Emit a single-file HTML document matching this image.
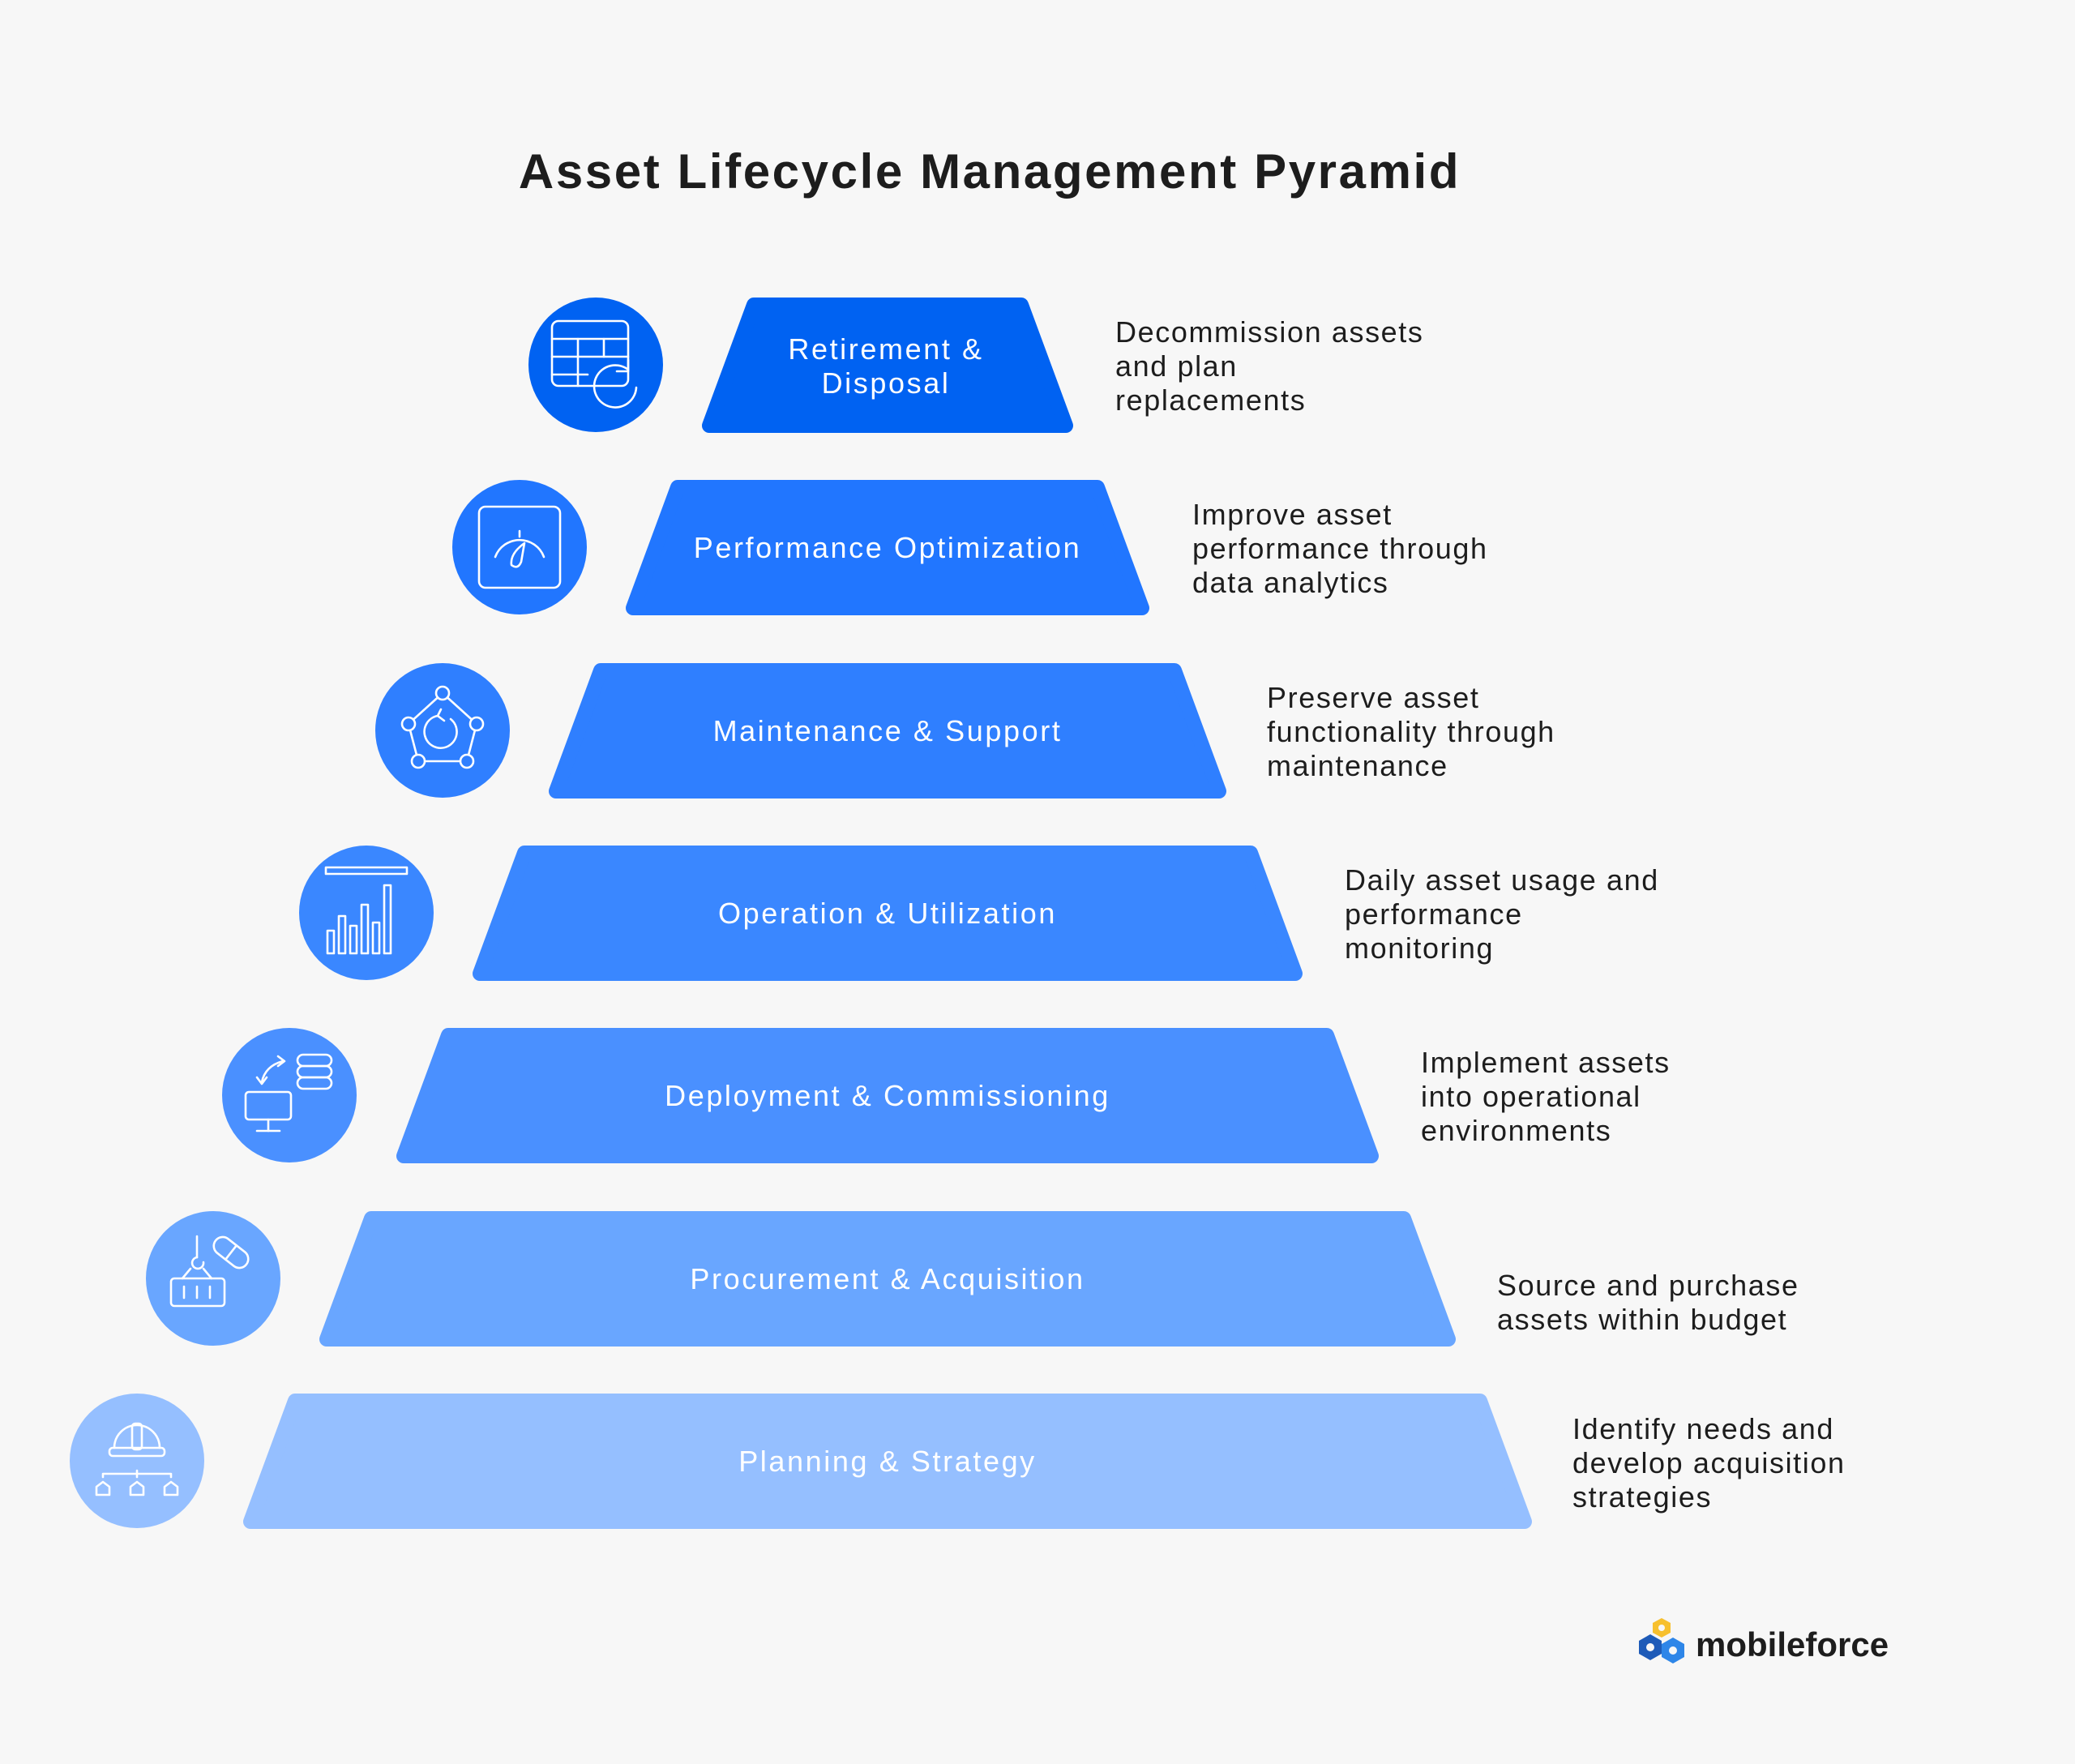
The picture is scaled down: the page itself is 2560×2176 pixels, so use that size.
<!DOCTYPE html>
<html><head><meta charset="utf-8"><style>
html,body{margin:0;padding:0;background:#f7f7f7}
svg{display:block}
.lab{font-family:"Liberation Sans",sans-serif;font-size:36px;fill:#fff;text-anchor:middle;letter-spacing:2.6px}
.desc{font-family:"Liberation Sans",sans-serif;font-size:36px;fill:#1d1d1d;letter-spacing:1.6px}
.ic{fill:none;stroke:#fff;stroke-width:2.6;stroke-linecap:round;stroke-linejoin:round}
</style></head><body>
<svg width="2560" height="2176" viewBox="0 0 2560 2176" xmlns="http://www.w3.org/2000/svg">
<rect width="2560" height="2176" fill="#f7f7f7"/>
<text x="1221" y="232" text-anchor="middle" font-family="Liberation Sans,sans-serif" font-weight="bold" font-size="60" letter-spacing="2.6" fill="#1d1d1d">Asset Lifecycle Management Pyramid</text>

<g stroke-linejoin="round" stroke-width="18">
<polygon points="930,376 1260,376 1315,525 875,525" fill="#0062F2" stroke="#0062F2"/>
<polygon points="836,601 1354,601 1409,750 781,750" fill="#2176FF" stroke="#2176FF"/>
<polygon points="741,827 1449,827 1504,976 686,976" fill="#2F7FFF" stroke="#2F7FFF"/>
<polygon points="647,1052 1543,1052 1598,1201 592,1201" fill="#3A87FF" stroke="#3A87FF"/>
<polygon points="553,1277 1637,1277 1692,1426 498,1426" fill="#4A90FF" stroke="#4A90FF"/>
<polygon points="458,1503 1732,1503 1787,1652 403,1652" fill="#69A6FF" stroke="#69A6FF"/>
<polygon points="364,1728 1826,1728 1881,1877 309,1877" fill="#95BFFF" stroke="#95BFFF"/>
</g>

<text class="lab" x="1093" y="443">Retirement &amp;</text>
<text class="lab" x="1093" y="485">Disposal</text>
<text class="lab" x="1095" y="688">Performance Optimization</text>
<text class="lab" x="1095" y="914">Maintenance &amp; Support</text>
<text class="lab" x="1095" y="1139">Operation &amp; Utilization</text>
<text class="lab" x="1095" y="1364">Deployment &amp; Commissioning</text>
<text class="lab" x="1095" y="1590">Procurement &amp; Acquisition</text>
<text class="lab" x="1095" y="1815" fill="#eef4ff">Planning &amp; Strategy</text>

<circle cx="735" cy="450" r="83" fill="#0062F2"/>
<circle cx="641" cy="675" r="83" fill="#2176FF"/>
<circle cx="546" cy="901" r="83" fill="#2F7FFF"/>
<circle cx="452" cy="1126" r="83" fill="#3A87FF"/>
<circle cx="357" cy="1351" r="83" fill="#4A90FF"/>
<circle cx="263" cy="1577" r="83" fill="#69A6FF"/>
<circle cx="169" cy="1802" r="83" fill="#95BFFF"/>

<g class="ic" transform="translate(735,450)">
<rect x="-54" y="-54" width="94" height="80" rx="8"/>
<line x1="-54" y1="-32" x2="40" y2="-32"/><line x1="-54" y1="-10" x2="40" y2="-10"/>
<line x1="-54" y1="12" x2="-10" y2="12"/>
<line x1="-22" y1="-32" x2="-22" y2="26"/><line x1="10" y1="-32" x2="10" y2="-10"/>
<path d="M50,28 A26,26 0 1 1 40,6"/><path d="M40,-6 L40,8 L26,8"/>
</g>
<g class="ic" transform="translate(641,675)">
<rect x="-50" y="-50" width="100" height="100" rx="8"/>
<path d="M-30,12 A32,32 0 0 1 30,12"/>
<line x1="0" y1="-20" x2="0" y2="-13"/>
<path d="M6,-5 Q-12,8 -10,22 Q-2,28 2,18 Z"/>
</g>
<g class="ic" transform="translate(546,901)">
<path d="M0,-46 L42,-8 L30,38 L-30,38 L-42,-8 Z"/>
<circle cx="0" cy="-46" r="8" fill="#2F7FFF"/><circle cx="42" cy="-8" r="8" fill="#2F7FFF"/>
<circle cx="30" cy="38" r="8" fill="#2F7FFF"/><circle cx="-30" cy="38" r="8" fill="#2F7FFF"/>
<circle cx="-42" cy="-8" r="8" fill="#2F7FFF"/>
<path d="M-6,-18 A20,20 0 1 0 10,-14"/><path d="M-2,-26 L-6,-18 L2,-12"/>
</g>
<g class="ic" transform="translate(452,1126)">
<rect x="-50" y="-56" width="100" height="8"/>
<rect x="-48" y="22" width="8" height="28"/><rect x="-34" y="4" width="8" height="46"/>
<rect x="-20" y="16" width="8" height="34"/><rect x="-6" y="-10" width="8" height="60"/>
<rect x="8" y="12" width="8" height="38"/><rect x="22" y="-34" width="8" height="84"/>
</g>
<g class="ic" transform="translate(357,1351)">
<rect x="-54" y="-4" width="56" height="34" rx="4"/>
<line x1="-26" y1="30" x2="-26" y2="44"/><line x1="-40" y1="44" x2="-12" y2="44"/>
<rect x="10" y="-50" width="42" height="14" rx="7"/><rect x="10" y="-36" width="42" height="14" rx="7"/>
<rect x="10" y="-22" width="42" height="14" rx="7"/>
<path d="M-34,-16 Q-30,-36 -8,-42"/><path d="M-14,-48 L-6,-42 L-14,-36"/><path d="M-40,-22 L-34,-14 L-28,-22"/>
</g>
<g class="ic" transform="translate(263,1577)">
<line x1="-20" y1="-52" x2="-20" y2="-26"/>
<path d="M-20,-26 A7,7 0 1 0 -12,-20"/>
<line x1="-28" y1="-12" x2="-38" y2="0"/><line x1="-12" y1="-12" x2="-2" y2="0"/>
<rect x="-52" y="0" width="66" height="34" rx="4"/>
<line x1="-36" y1="10" x2="-36" y2="24"/><line x1="-20" y1="10" x2="-20" y2="24"/><line x1="-4" y1="10" x2="-4" y2="24"/>
<g transform="translate(22,-32) rotate(38)"><rect x="-24" y="-11" width="48" height="22" rx="11"/><line x1="0" y1="-11" x2="0" y2="11"/></g>
</g>
<g class="ic" transform="translate(169,1802)">
<path d="M-28,-16 A28,28 0 0 1 28,-16"/>
<rect x="-6" y="-46" width="12" height="32" rx="4"/>
<rect x="-34" y="-16" width="68" height="10" rx="4"/>
<path d="M-42,20 L-42,16 L42,16 L42,20"/><line x1="0" y1="12" x2="0" y2="20"/>
<path d="M-50,42 L-50,32 L-42,26 L-34,32 L-34,42 Z"/>
<path d="M-8,42 L-8,32 L0,26 L8,32 L8,42 Z"/>
<path d="M34,42 L34,32 L42,26 L50,32 L50,42 Z"/>
</g>

<g class="desc">
<text x="1376" y="422">Decommission assets</text><text x="1376" y="464">and plan</text><text x="1376" y="506">replacements</text>
<text x="1471" y="647">Improve asset</text><text x="1471" y="689">performance through</text><text x="1471" y="731">data analytics</text>
<text x="1563" y="873">Preserve asset</text><text x="1563" y="915">functionality through</text><text x="1563" y="957">maintenance</text>
<text x="1659" y="1098">Daily asset usage and</text><text x="1659" y="1140">performance</text><text x="1659" y="1182">monitoring</text>
<text x="1753" y="1323">Implement assets</text><text x="1753" y="1365">into operational</text><text x="1753" y="1407">environments</text>
<text x="1847" y="1598">Source and purchase</text><text x="1847" y="1640">assets within budget</text>
<text x="1940" y="1775">Identify needs and</text><text x="1940" y="1817">develop acquisition</text><text x="1940" y="1859">strategies</text>
</g>

<g transform="translate(2050,2030)">
<polygon points="0,-34 11,-28 11,-16 0,-10 -11,-16 -11,-28" fill="#F7C02E"/>
<polygon points="-14,-14 0,-6 0,10 -14,18 -28,10 -28,-6" fill="#1E5BB8"/>
<polygon points="14,-10 28,-2 28,14 14,22 0,14 0,-2" fill="#2E86E8"/>
<circle cx="-14" cy="2" r="5" fill="#f7f7f7"/><circle cx="14" cy="6" r="5" fill="#f7f7f7"/><circle cx="0" cy="-22" r="4" fill="#f7f7f7"/>
</g>
<text x="2092" y="2043" font-family="Liberation Sans,sans-serif" font-weight="bold" font-size="42" fill="#1d1d1d">mobileforce</text>
</svg>
</body></html>
